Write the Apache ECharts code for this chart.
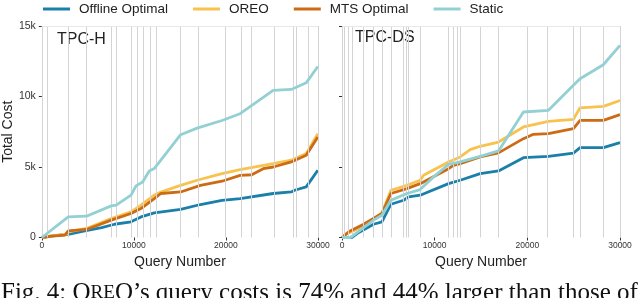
<!DOCTYPE html>
<html><head><meta charset="utf-8">
<script src="https://cdn.jsdelivr.net/npm/echarts@6/dist/echarts.min.js"></script>
<style>html,body{margin:0;padding:0;background:#fff;}#c{width:640px;height:298px;}</style>
</head><body><div id="c"></div>
<script>
const seriesNames = ['Offline Optimal', 'OREO', 'MTS Optimal', 'Static'];
const colors = ['#1a80aa', '#f8c24d', '#cc6b14', '#93d0d3'];
const panelTitles = ['TPC-H', 'TPC-DS'];
const xTicks = [0, 10000, 20000, 30000];
const yTickLabels = {0: '0', 5000: '5k', 10000: '10k', 15000: '15k'};

// TPC-H
const hOffline = [[0,0],[1000,100],[2870,230],[2900,300],[4670,470],[6500,700],[7900,940],[9690,1110],[10770,1460],[12210,1750],[15080,2000],[17230,2340],[19570,2640],[21540,2760],[25130,3120],[27100,3230],[27460,3350],[28720,3590],[29980,4770]];
const hOreo = [[0,0],[1000,120],[2800,250],[2870,400],[4850,640],[7540,1350],[9690,1820],[10770,2290],[12210,3000],[12930,3230],[15080,3700],[16870,4060],[19570,4530],[21540,4810],[25130,5240],[27100,5480],[28720,5950],[29980,7360]];
const hMts = [[0,0],[1080,94],[2510,165],[2870,470],[4850,570],[7540,1230],[9690,1700],[10770,2050],[12210,2760],[12930,3120],[15080,3230],[17230,3700],[19570,3990],[21540,4410],[22800,4450],[24050,4880],[25130,5000],[27100,5360],[28720,5830],[29980,7130]];
const hStatic = [[0,0],[2870,1460],[4850,1510],[7540,2240],[8080,2290],[9690,3000],[10230,3660],[10950,3940],[11670,4720],[12210,4890],[15080,7290],[16870,7760],[19570,8300],[21540,8780],[25130,10430],[27100,10500],[28720,10970],[29980,12130]];
const hChanges = [0,600,2900,4800,7500,8100,9700,10400,11000,11800,12400,15000,17000,19900,21700,22700,25200,27300,27600,28900,30000];

// TPC-DS
const dsOffline = [[0,0],[1080,0],[1620,280],[3410,940],[4310,1110],[5280,2360],[6650,2640],[7190,2880],[8440,3000],[11500,3820],[12750,4060],[14910,4530],[16890,4720],[19580,5660],[22280,5760],[24970,5990],[25690,6370],[28200,6370],[30000,6730]];
const dsOreo = [[0,0],[720,330],[2330,800],[4310,1750],[5280,3350],[7000,3700],[8440,4060],[8800,4410],[11500,5360],[12750,5710],[13830,6230],[14910,6470],[16890,6770],[19580,7840],[22280,8240],[24970,8380],[25690,9200],[28200,9300],[30000,9720]];
const dsMts = [[0,0],[720,400],[2330,940],[4310,1700],[5280,3120],[7000,3470],[8440,3820],[11500,4880],[12030,5120],[12750,5240],[14910,5710],[16890,6000],[19580,7010],[20650,7320],[22280,7360],[24970,7720],[25690,8310],[28200,8310],[30000,8710]];
const dsStatic = [[0,0],[900,0],[1260,165],[3410,1230],[4310,1580],[5280,2640],[7000,3120],[8440,3400],[9880,4300],[11500,5190],[12750,5360],[14910,5760],[16890,6140],[19580,8900],[22280,9020],[24970,10790],[25690,11260],[28200,12250],[30000,13620]];
const dsChanges = [0,200,711,1143,2330,3400,4312,5280,6640,6930,7180,8440,11490,12030,12460,12750,14900,16880,19940,22100,24970,25690,28200,30000];

const panels = [[hOffline, hOreo, hMts, hStatic], [dsOffline, dsOreo, dsMts, dsStatic]];
const changes = [hChanges, dsChanges];

const chart = echarts.init(document.getElementById('c'), null, {renderer: 'canvas'});
const font = 'Liberation Sans, Arial, sans-serif';

const grids = [
  {left: 40, top: 26, width: 278, height: 211.5},
  {left: 342, top: 26, width: 278, height: 211.5}
];

const xAxes = grids.map((g, i) => ({
  type: 'value', gridIndex: i, min: 0, max: 30000, interval: 10000,
  axisLine: {show: false},
  axisTick: {show: true, length: 3, lineStyle: {color: '#333'}},
  axisLabel: {fontSize: 8.5, color: '#333', fontFamily: font, margin: 4,
              formatter: v => xTicks.includes(v) ? String(v) : ''},
  splitLine: {show: false},
  name: 'Query Number', nameLocation: 'middle', nameGap: 12,
  nameTextStyle: {fontSize: 14, color: '#222', fontFamily: font}
}));

const yAxes = grids.map((g, i) => ({
  type: 'value', gridIndex: i, min: 0, max: 15000, interval: 5000,
  axisLine: {show: false},
  axisTick: {show: true, length: 3, lineStyle: {color: '#333'}},
  axisLabel: {show: i === 0, fontSize: 10.5, color: '#333', fontFamily: font, margin: 6,
              formatter: v => yTickLabels[v]},
  splitLine: {show: false},
  name: i === 0 ? 'Total Cost' : '', nameLocation: 'middle', nameGap: 19,
  nameTextStyle: {fontSize: 14, color: '#222', fontFamily: font}
}));

const series = [];
panels.forEach((pd, i) => {
  series.push({
    type: 'line', xAxisIndex: i, yAxisIndex: i, data: [], z: 1, silent: true,
    markLine: {
      silent: true, symbol: 'none', animation: false,
      label: {show: false},
      lineStyle: {color: '#d4d4d4', width: 1, type: 'solid'},
      data: changes[i].map(v => ({xAxis: v})).concat([{yAxis: 15000, lineStyle: {color: '#e8e8e8', width: 1, type: 'solid'}}])
    }
  });
  pd.forEach((d, k) => {
    series.push({
      name: seriesNames[k], type: 'line', xAxisIndex: i, yAxisIndex: i,
      data: d, showSymbol: false, symbol: 'none', z: 2 + k,
      lineStyle: {color: colors[k], width: 2.8}, itemStyle: {color: colors[k]},
      animation: false
    });
  });
});

chart.setOption({
  animation: false,
  grid: grids,
  xAxis: xAxes,
  yAxis: yAxes,
  legend: {
    data: seriesNames, left: 43, top: 2, padding: 0, itemWidth: 27, itemHeight: 3, itemGap: 25,
    icon: 'rect',
    textStyle: {fontSize: 13.5, color: '#222', fontFamily: font, padding: [0, 0, 0, 4]}
  },
  graphic: [
    {type: 'text', left: 57, top: 32, style: {text: panelTitles[0], fontSize: 16, fill: '#222', fontFamily: font}},
    {type: 'text', left: 355, top: 30, style: {text: panelTitles[1], fontSize: 16, fill: '#222', fontFamily: font}},
    {type: 'text', left: 1, top: 281, style: {
      text: '{a|Fig. 4: O}{b|RE}{a|O\u2019s query costs is 74% and 44% larger than those of}',
      rich: {a: {fontSize: 25, fontFamily: 'Liberation Serif, Times New Roman, serif', fill: '#111'},
             b: {fontSize: 19, fontFamily: 'Liberation Serif, Times New Roman, serif', fill: '#111'}}
    }}
  ],
  series: series
});
</script></body></html>
